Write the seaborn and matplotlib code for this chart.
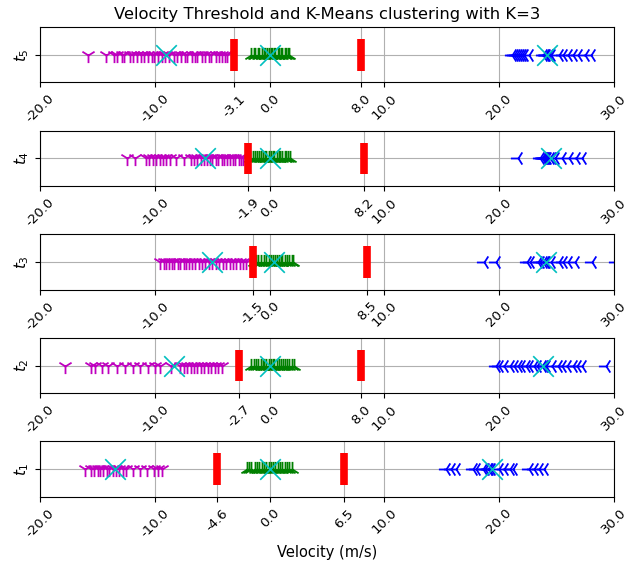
import numpy as np
import matplotlib
matplotlib.use("Agg")
import matplotlib.pyplot as plt
import seaborn as sns

# ---- data (top panel t5 ... bottom panel t1) ----
panel_labels = ["$t_5$", "$t_4$", "$t_3$", "$t_2$", "$t_1$"]

slow_t5 = [-15.8, -14.3, -13.6, -13.3, -12.9, -12.7, -12.2, -11.9, -11.6, -11.2, -11.0, -10.6,
           -10.3, -10.1, -9.7, -9.4, -9.1, -8.8, -8.3, -8.1, -7.7, -7.4, -7.2, -6.8, -6.5,
           -6.3, -5.9, -5.6, -5.3, -5.1, -4.7, -4.4, -4.2, -3.9, -3.7]
mid_t5 = [-1.6, -1.4, -1.3, -1.0, -0.9, -0.7, -0.5, -0.4, -0.2, -0.1, 0.1, 0.2, 0.4, 0.5,
          0.7, 0.8, 1.0, 1.1, 1.3, 1.4, 1.6, 1.7]
fast_t5 = [21.1, 21.3, 21.5, 21.6, 21.8, 22.0, 22.2, 22.6, 23.8, 24.0, 24.1, 24.3, 24.5,
           25.2, 25.6, 26.0, 26.4, 26.9, 27.5, 28.0]

slow_t4 = [-12.4, -11.7, -10.8, -10.5, -10.2, -9.9, -9.6, -9.3, -9.0, -8.7, -8.2, -7.5,
           -6.9, -6.6, -6.3, -6.0, -5.7, -5.5, -5.2, -5.0, -4.7, -4.5, -4.2, -4.0, -3.7,
           -3.5, -3.2, -3.0, -2.7, -2.5, -2.3]
mid_t4 = [-1.7, -1.5, -1.3, -1.1, -0.9, -0.8, -0.6, -0.4, -0.3, -0.1, 0.1, 0.3, 0.4, 0.6,
          0.8, 0.9, 1.1, 1.3, 1.4, 1.6, 1.8]
fast_t4 = [21.6, 23.6, 23.7, 23.8, 23.9, 24.0, 24.1, 24.2, 24.4, 24.6, 24.9, 25.5, 26.1,
           26.7, 27.2]

slow_t3 = [-9.6, -9.2, -9.0, -8.8, -8.5, -8.3, -8.0, -7.8, -7.5, -7.3, -7.0, -6.8, -6.5,
           -6.2, -5.9, -5.6, -5.3, -5.0, -4.7, -4.4, -4.1, -3.8, -3.5, -3.2, -2.9, -2.6,
           -2.3, -2.1]
mid_t3 = [-1.4, -1.2, -1.0, -0.8, -0.5, -0.3, -0.1, 0.1, 0.3, 0.5, 0.6, 0.8, 1.0, 1.1,
          1.3, 1.5, 1.7, 1.9, 2.0]
fast_t3 = [18.7, 19.7, 22.4, 22.7, 23.4, 23.6, 23.8, 24.0, 24.1, 24.5, 25.2, 25.6, 26.0,
           26.6, 28.1, 30.2]

slow_t2 = [-17.8, -15.6, -15.2, -14.6, -14.1, -13.3, -12.6, -11.9, -11.3, -10.6, -10.0,
           -9.6, -8.6, -7.8, -7.5, -7.2, -6.9, -6.6, -6.3, -6.0, -5.7, -5.4, -5.1, -4.8,
           -4.5, -4.2]
mid_t2 = [-1.6, -1.4, -1.2, -1.0, -0.8, -0.6, -0.5, -0.3, -0.1, 0.1, 0.3, 0.4, 0.6, 0.8,
          1.0, 1.2, 1.3, 1.5, 1.7, 1.9, 2.1]
fast_t2 = [19.7, 20.0, 20.4, 20.9, 21.3, 21.6, 21.9, 22.3, 22.6, 23.0, 23.3, 23.7, 23.9,
           24.1, 24.6, 25.1, 25.5, 25.9, 26.4, 26.8, 27.2, 29.3]

slow_t1 = [-16.1, -15.6, -15.3, -15.0, -14.8, -14.5, -14.2, -14.0, -13.7, -13.4, -13.1,
           -12.8, -12.5, -11.9, -11.3, -10.7, -10.1, -9.7, -9.4]
mid_t1 = [-2.0, -1.8, -1.6, -1.3, -1.1, -0.9, -0.7, -0.5, -0.3, -0.1, 0.1, 0.3, 0.5, 0.7,
          0.9, 1.1, 1.3, 1.5, 1.7, 1.9]
fast_t1 = [15.4, 15.8, 16.2, 17.7, 18.0, 18.6, 18.8, 19.0, 19.1, 19.3, 20.0, 20.4, 20.9,
           21.2, 22.6, 23.0, 23.5, 23.9]

centroids_t5 = [-9.0, 0.0, 24.2]
centroids_t4 = [-5.65, 0.0, 24.5]
centroids_t3 = [-5.0, 0.4, 24.1]
centroids_t2 = [-8.3, 0.0, 23.8]
centroids_t1 = [-13.5, 0.0, 19.4]

thresholds_t5 = [-3.1, 8.0]
thresholds_t4 = [-1.9, 8.2]
thresholds_t3 = [-1.5, 8.5]
thresholds_t2 = [-2.7, 8.0]
thresholds_t1 = [-4.6, 6.5]

base_ticks = [-20.0, -10.0, 0.0, 10.0, 20.0, 30.0]

panels = [
    (slow_t5, mid_t5, fast_t5, centroids_t5, thresholds_t5),
    (slow_t4, mid_t4, fast_t4, centroids_t4, thresholds_t4),
    (slow_t3, mid_t3, fast_t3, centroids_t3, thresholds_t3),
    (slow_t2, mid_t2, fast_t2, centroids_t2, thresholds_t2),
    (slow_t1, mid_t1, fast_t1, centroids_t1, thresholds_t1),
]

fig, axes = plt.subplots(5, 1, figsize=(6.29, 5.64), dpi=100)
fig.subplots_adjust(left=0.064, right=0.976, top=0.952, bottom=0.119, hspace=0.87)

for ax, label, (slow, mid, fast, cents, thr) in zip(axes, panel_labels, panels):
    ax.set_axisbelow(True)
    sns.scatterplot(x=slow, y=np.zeros(len(slow)), marker="1", color="m", s=120,
                    linewidth=1.3, ax=ax, zorder=2)
    sns.scatterplot(x=mid, y=np.zeros(len(mid)), marker="2", color="g", s=120,
                    linewidth=1.3, ax=ax, zorder=2)
    sns.scatterplot(x=fast, y=np.zeros(len(fast)), marker="3", color="b", s=120,
                    linewidth=1.3, ax=ax, zorder=2)
    sns.scatterplot(x=cents, y=np.zeros(len(cents)), marker="x", color="c", s=220,
                    linewidth=1.2, ax=ax, zorder=3)
    ax.vlines(thr, -0.57, 0.57, colors="r", linewidth=5.5, zorder=4)
    ax.set_xlim(-20, 30)
    ax.set_ylim(-1, 1)
    ticks = base_ticks + list(thr)
    ax.set_xticks(ticks)
    ax.set_xticklabels([f"{t:.1f}" for t in ticks], rotation=45, fontsize=9.5)
    ax.set_yticks([0])
    ax.set_yticklabels([label], fontsize=11, rotation=90, va="center")
    ax.grid(True, color="#b0b0b0", linewidth=0.8)
    ax.set_xlabel("")
    ax.set_ylabel("")

axes[0].set_title("Velocity Threshold and K-Means clustering with K=3", fontsize=11.8)
axes[-1].set_xlabel("Velocity (m/s)", fontsize=10.5)

fig.savefig("out.png", dpi=100)
